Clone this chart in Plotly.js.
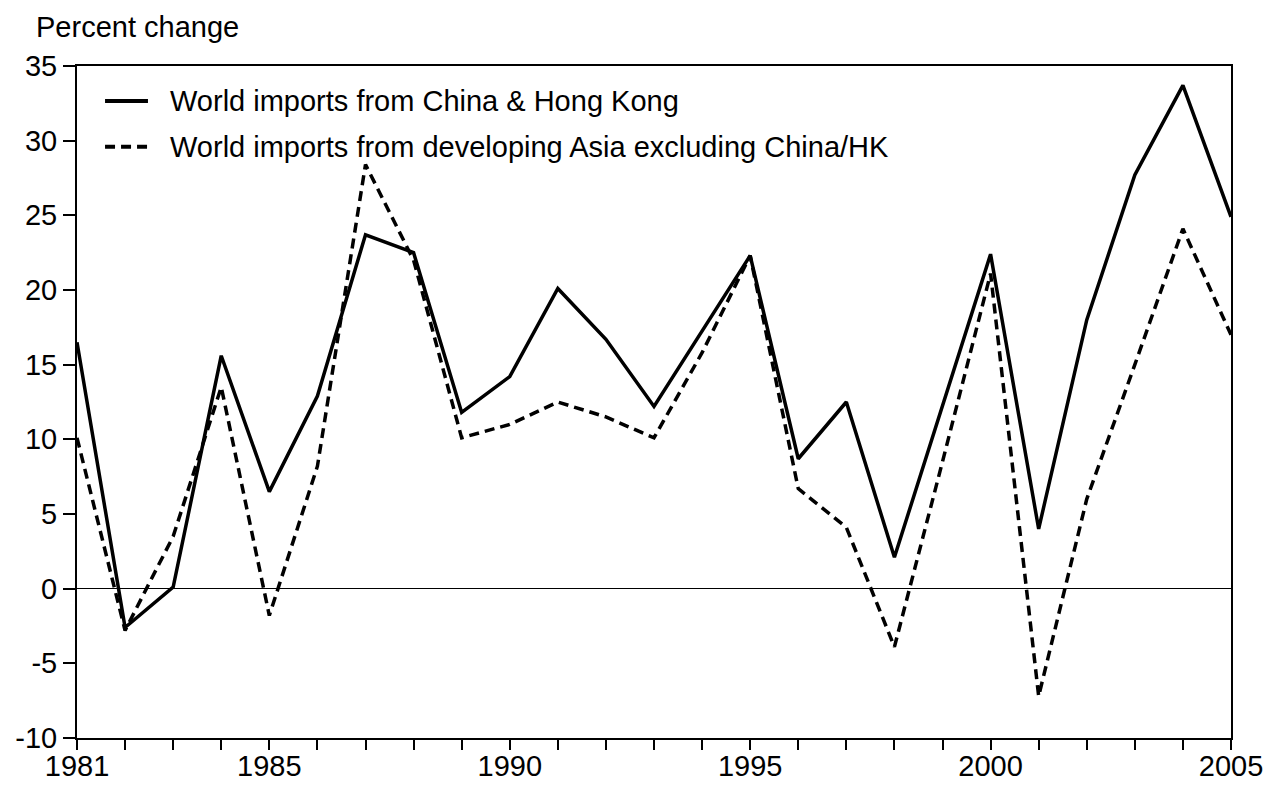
<!DOCTYPE html>
<html><head><meta charset="utf-8">
<script src="https://cdn.plot.ly/plotly-3.0.1.min.js"></script>
<style>html,body{margin:0;padding:0;background:#fff}#chart{width:1268px;height:788px}</style>
</head><body><div id="chart"></div>
<script>
const years = [1981,1982,1983,1984,1985,1986,1987,1988,1989,1990,1991,1992,1993,1994,1995,1996,1997,1998,1999,2000,2001,2002,2003,2004,2005];
const chinaHK = [16.5,-2.6,0.1,15.6,6.5,12.9,23.7,22.5,11.8,14.2,20.1,16.7,12.2,17.2,22.3,8.7,12.5,2.1,12.3,22.4,4.0,18.0,27.7,33.7,24.9];
const devAsia = [10.1,-2.8,3.5,13.5,-1.8,8.2,28.4,22.0,10.1,11.0,12.5,11.5,10.1,15.8,22.3,6.7,4.1,-3.9,8.5,21.1,-7.2,6.0,15.0,24.1,17.0];
const seriesNames = ["World imports from China & Hong Kong","World imports from developing Asia excluding China/HK"];
const xLabelYears = [1981,1985,1990,1995,2000,2005];
const yTickVals = [-10,-5,0,5,10,15,20,25,30,35];
const yTickText = ["-10","-5","0","5","10","15","20","25","30","35"];

const FONT = '"Liberation Sans", Arial, sans-serif';
const FS = 29;
const DASH = '10px,6px';
const traces = [
  {x: years, y: chinaHK, name: seriesNames[0], type:'scatter', mode:'lines',
   line:{color:'#000', width:3.5}},
  {x: years, y: devAsia, name: seriesNames[1], type:'scatter', mode:'lines',
   line:{color:'#000', width:3.5, dash:DASH}}
];

// manual legend (paper coordinates of the plot area)
const legRows = [0.948, 0.880];
const legShapes = legRows.map((yy, i) => ({
  type:'line', xref:'paper', yref:'paper', x0:0.0243, x1:0.0615, y0:yy, y1:yy,
  line:{color:'#000', width:4, dash: i === 0 ? 'solid' : DASH}
}));
const legAnn = legRows.map((yy, i) => ({
  xref:'paper', yref:'paper', x:0.0789, y:yy, xanchor:'left', yanchor:'middle',
  text: seriesNames[i], showarrow:false, font:{family:FONT, size:FS, color:'#000'}
}));

const layout = {
  width:1268, height:788,
  margin:{l:77, r:37, t:66, b:50},
  paper_bgcolor:'#fff', plot_bgcolor:'#fff',
  font:{family:FONT, size:FS, color:'#000'},
  title:{text:'Percent change', x:36/1268, xanchor:'left', xref:'container',
         y:1-27/788, yanchor:'middle', yref:'container', font:{family:FONT, size:FS, color:'#000'}},
  showlegend:false,
  shapes: legShapes,
  annotations: legAnn,
  xaxis:{range:[1981,2005], tickvals:years,
         ticktext:years.map(y => xLabelYears.includes(y) ? String(y) : ''),
         ticks:'outside', ticklen:10, tickwidth:2, tickcolor:'#000', ticklabelstandoff:-9,
         showline:true, linecolor:'#000', linewidth:2, mirror:true,
         showgrid:false, zeroline:false, tickfont:{family:FONT, size:FS, color:'#000'}},
  yaxis:{range:[-10,35], tickvals:yTickVals, ticktext:yTickText,
         ticks:'outside', ticklen:12, tickwidth:2, tickcolor:'#000',
         showline:true, linecolor:'#000', linewidth:2, mirror:true,
         showgrid:false, zeroline:true, zerolinecolor:'#000', zerolinewidth:1,
         tickfont:{family:FONT, size:FS, color:'#000'}}
};
Plotly.newPlot('chart', traces, layout, {displayModeBar:false, staticPlot:true});
</script></body></html>
